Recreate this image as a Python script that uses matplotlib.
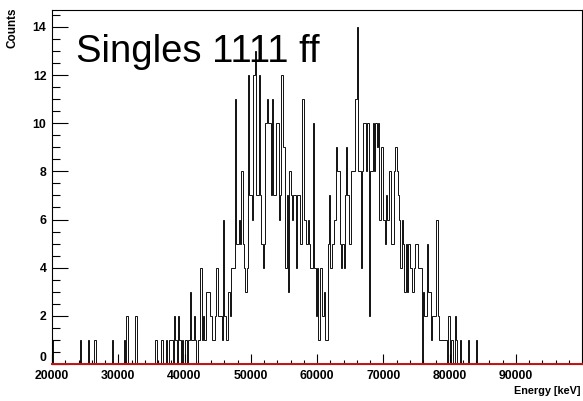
import numpy as np
import matplotlib
matplotlib.use("Agg")
import matplotlib.pyplot as plt
from matplotlib.ticker import MultipleLocator

# singles spectrum, 200 keV bins from 20 MeV to 100 MeV
counts_20k = [1, 0, 0, 0, 0, 0, 0, 0, 0, 0,
              0, 0, 0, 0, 0, 0, 0, 0, 0, 0,
              0, 1, 0, 0, 0, 0, 0, 1, 0, 0,
              0, 0, 1, 0, 0, 0, 0, 0, 0, 0,
              0, 0, 0, 0, 0, 1, 0, 0, 0, 0]
counts_30k = [0, 0, 0, 0, 1, 0, 2, 0, 0, 0,
              0, 0, 0, 2, 0, 0, 0, 0, 0, 0,
              0, 0, 0, 0, 0, 0, 0, 0, 1, 0,
              0, 0, 1, 1, 0, 0, 1, 0, 1, 1,
              1, 0, 2, 1, 0, 2, 1, 0, 1, 0]
counts_40k = [1, 1, 0, 1, 3, 1, 1, 2, 1, 0,
              1, 1, 4, 1, 2, 1, 3, 3, 3, 2,
              2, 1, 1, 2, 4, 2, 2, 2, 1, 6,
              2, 1, 1, 3, 2, 4, 4, 4, 11, 5,
              5, 6, 5, 8, 5, 4, 3, 4, 12, 7]
counts_50k = [7, 6, 12, 13, 7, 7, 12, 7, 5, 4,
              5, 10, 11, 10, 10, 7, 11, 7, 7, 10,
              10, 6, 7, 12, 9, 9, 4, 7, 3, 8,
              7, 6, 7, 7, 4, 7, 7, 5, 5, 11,
              6, 6, 5, 6, 5, 4, 4, 10, 4, 2]
counts_60k = [4, 1, 4, 4, 2, 3, 1, 1, 5, 7,
              4, 5, 5, 6, 9, 8, 8, 5, 4, 5,
              4, 7, 9, 7, 5, 5, 8, 8, 8, 11,
              14, 8, 8, 4, 8, 10, 10, 8, 10, 2,
              8, 8, 10, 8, 10, 9, 10, 6, 9, 9]
counts_70k = [6, 5, 7, 6, 8, 8, 5, 5, 8, 9,
              8, 7, 6, 4, 6, 5, 3, 5, 3, 5,
              4, 4, 3, 4, 5, 5, 4, 4, 4, 0,
              3, 2, 2, 5, 3, 3, 1, 2, 2, 2,
              6, 2, 1, 1, 1, 1, 1, 1, 0, 2]
counts_80k = [0, 1, 1, 0, 2, 1, 0, 0, 1, 0,
              0, 0, 0, 0, 1, 0, 0, 0, 0, 0,
              1, 0, 0, 0, 0, 0, 0, 0, 0, 0,
              0, 0, 0, 0, 0, 0, 0, 0, 0, 0,
              0, 0, 0, 0, 0, 0, 0, 0, 0, 0]
counts_90k = [0] * 50

e_min, e_max, n_bins = 20000, 100000, 400
title = "Singles 1111 ff"
xlabel = "Energy [keV]"
ylabel = "Counts"

counts = np.array(counts_20k + counts_30k + counts_40k + counts_50k +
                  counts_60k + counts_70k + counts_80k + counts_90k)
edges = np.linspace(e_min, e_max, n_bins + 1)

W, H = 583, 401
fig = plt.figure(figsize=(W / 100, H / 100), dpi=100)
ax = fig.add_axes([52 / W, 37 / H, 530 / W, 354 / H])

ax.stairs(counts, edges, color="black", lw=0.65, baseline=0)
ax.axhline(0, color="#cc1111", lw=1.4, zorder=5, clip_on=False)

ax.set_xlim(e_min, e_max)
ax.set_ylim(0, 14.7)

ax.set_xticks(np.arange(e_min, e_max, 10000))
ax.set_yticks(np.arange(0, 15, 2))
ax.xaxis.set_minor_locator(MultipleLocator(2000))
ax.yaxis.set_minor_locator(MultipleLocator(0.5))
ax.tick_params(which="both", direction="in", top=False, right=False, width=0.8)
ax.tick_params(axis="x", which="major", length=7, pad=4)
ax.tick_params(axis="x", which="minor", length=3)
ax.tick_params(axis="y", which="major", length=11.5, pad=4)
ax.tick_params(axis="y", which="minor", length=5.8)
for lab in ax.get_xticklabels() + ax.get_yticklabels():
    lab.set_family("Liberation Sans")
    lab.set_fontweight("bold")
    lab.set_fontsize(8.8)
# lift the "0" so it clears the first energy label
ax.get_yticklabels()[0].set_va("bottom")
for sp in ax.spines.values():
    sp.set_linewidth(0.8)

fig.text(76 / W, 1 - 62 / H, title, fontsize=27.5, family="Liberation Sans",
         ha="left", va="baseline")
fig.text(581 / W, 1 - 391 / H, xlabel, fontsize=7.8, family="Liberation Sans",
         fontweight="bold", ha="right", va="center")
fig.text(13 / W, 1 - 8 / H, ylabel, fontsize=8.5, family="Liberation Sans",
         fontweight="bold", rotation=90, ha="center", va="top")

fig.savefig("out.png", dpi=100)
